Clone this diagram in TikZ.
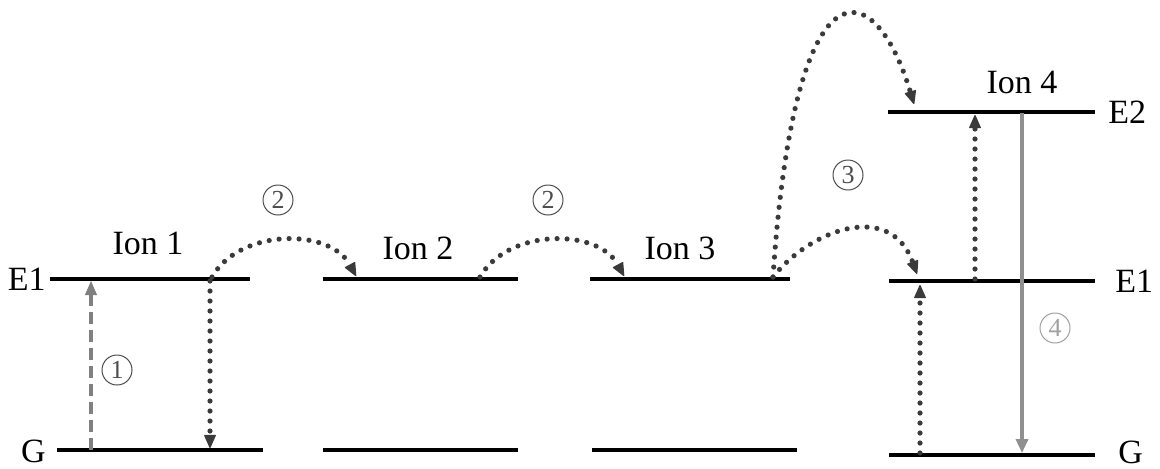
\documentclass[tikz,border=0pt]{standalone}
\usepackage{fontspec}
\setmainfont{Liberation Serif}
\usetikzlibrary{arrows.meta}
\definecolor{arr}{HTML}{3A3A3A}
\definecolor{lgray}{HTML}{A0A0A0}
\begin{document}
\begin{tikzpicture}[x=0.5pt,y=-0.5pt,
  level/.style={line width=2pt,black},
  lbl/.style={font=\fontsize{17}{20}\selectfont,inner sep=0pt},
  circnum/.style={circle,draw=#1,text=#1,line width=0.5pt,minimum size=15pt,inner sep=0pt,font=\fontsize{13}{14}\selectfont},
  circnum/.default=black!70,
  dotarrow/.style={draw=arr,line width=2.6pt,line cap=round,dash pattern=on 0pt off 5pt,
     -{Triangle[length=7pt,width=6pt,fill=arr,line width=0.6pt,round]}},
  dasharrow/.style={draw=gray,line width=1.6pt,dash pattern=on 6pt off 3pt,
     -{Triangle[length=7pt,width=6pt,fill=gray,line width=0.4pt]}},
  solidarrow/.style={draw=lgray!90!black,line width=2pt,
     -{Triangle[length=7pt,width=6pt]}}]
\useasboundingbox (0,0) rectangle (1160,468);
% ---- Ion 1 ----
\coordinate (i1eL) at (50,279); \coordinate (i1eR) at (250,279);
\coordinate (i1gL) at (57,450); \coordinate (i1gR) at (263,450);
\draw[level] (i1eL) -- (i1eR);
\draw[level] (i1gL) -- (i1gR);
\node[lbl,anchor=east] (E1a) at (46,279) {E1};
\node[lbl,anchor=east] (Ga) at (46,451) {G};
\node[lbl] (ion1) at (148,243) {Ion 1};
\coordinate (a1s) at (91,450); \coordinate (a1e) at (91,281);
\draw[dasharrow] (a1s) -- (a1e);
\node[circnum] (n1) at (117,370) {1};
\coordinate (d1s) at (210,281); \coordinate (d1e) at (210,448);
\draw[dotarrow] (d1s) -- (d1e);
% ---- Ion 2 ----
\coordinate (i2eL) at (323,279); \coordinate (i2eR) at (518,279);
\coordinate (i2gL) at (323,450); \coordinate (i2gR) at (518,450);
\draw[level] (i2eL) -- (i2eR);
\draw[level] (i2gL) -- (i2gR);
\node[lbl] (ion2) at (418,248) {Ion 2};
\coordinate (c1s) at (212,277); \coordinate (c1e) at (356,276);
\draw[dotarrow] (c1s) .. controls (240,228) and (330,228) .. (c1e);
\node[circnum] (n2a) at (278,200) {2};
% ---- Ion 3 ----
\coordinate (i3eL) at (590,279); \coordinate (i3eR) at (790,279);
\coordinate (i3gL) at (592,450); \coordinate (i3gR) at (797,450);
\draw[level] (i3eL) -- (i3eR);
\draw[level] (i3gL) -- (i3gR);
\node[lbl] (ion3) at (680,248) {Ion 3};
\coordinate (c2s) at (480,277); \coordinate (c2e) at (624,276);
\draw[dotarrow] (c2s) .. controls (508,228) and (598,228) .. (c2e);
\node[circnum] (n2b) at (548,200) {2};
% ---- Ion 4 ----
\coordinate (i4tL) at (888,112); \coordinate (i4tR) at (1095,112);
\coordinate (i4eL) at (889,281); \coordinate (i4eR) at (1095,281);
\coordinate (i4gL) at (889,455); \coordinate (i4gR) at (1095,455);
\draw[level] (i4tL) -- (i4tR);
\draw[level] (i4eL) -- (i4eR);
\draw[level] (i4gL) -- (i4gR);
\node[lbl] (ion4) at (1022,82) {Ion 4};
\node[lbl,anchor=west] (E2) at (1108,112) {E2};
\node[lbl,anchor=west] (E1b) at (1115,281) {E1};
\node[lbl,anchor=west] (Gb) at (1118,452) {G};
% energy transfer ③
\coordinate (c3s) at (773,277);
\coordinate (c3a) at (914,104);
\coordinate (c3b) at (917,274);
\draw[dotarrow] (c3s) .. controls (795,-50) and (875,-25) .. (c3a);
\draw[dotarrow] (c3s) .. controls (810,230) and (890,200) .. (c3b);
\node[circnum] (n3) at (848,175) {3};
% up-conversion arrows
\coordinate (u1s) at (920,453); \coordinate (u1e) at (920,285);
\draw[dotarrow] (u1s) -- (u1e);
\coordinate (u2s) at (975,279); \coordinate (u2e) at (975,115);
\draw[dotarrow] (u2s) -- (u2e);
% emission ④
\coordinate (e4s) at (1022,113); \coordinate (e4e) at (1022,453);
\draw[solidarrow] (e4s) -- (e4e);
\node[circnum=lgray] (n4) at (1055,328) {4};
\end{tikzpicture}
\end{document}
